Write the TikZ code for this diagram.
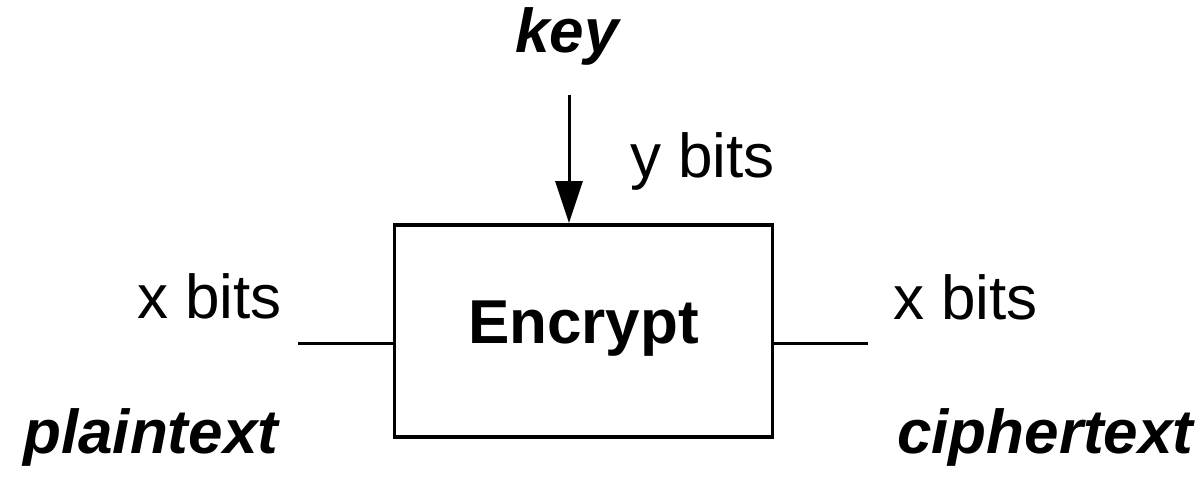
\documentclass[tikz,border=0pt]{standalone}
\usepackage{fontspec}
\setmainfont{Liberation Sans}
\usetikzlibrary{arrows.meta}
\tikzset{
  lbl/.style={inner sep=0pt, font=\fontsize{62}{74}\selectfont},
  tag/.style={lbl, font=\fontsize{62}{74}\selectfont\bfseries\itshape},
  blockbox/.style={draw, line width=3.8pt, minimum width=378pt, minimum height=212pt,
    inner sep=0pt, font=\fontsize{62}{74}\selectfont\bfseries,
    text height=45pt, text depth=21pt},
  wire/.style={line width=3pt},
  feed/.style={line width=3pt, -{Triangle[length=42pt,width=27pt]}}
}
\begin{document}
\begin{tikzpicture}[x=1pt,y=-1pt]
  \useasboundingbox (0,0) rectangle (1201,479);
  % encryption block
  \node[blockbox] (enc) at (583.5,331) {Encrypt};
  % key input from above
  \node[tag, anchor=base] (key) at (567,52) {key};
  \coordinate (ktop) at (569,95);
  \draw[feed] (ktop) -- (ktop |- enc.north);
  \node[lbl, anchor=base west] (ybits) at (630,177) {y bits};
  % plaintext input on the left
  \coordinate (pin) at (298,343);
  \draw[wire] (pin) -- (pin -| enc.west);
  \node[lbl, anchor=base west] (xin) at (137,318) {x bits};
  \node[tag, anchor=base west] (plain) at (23,453) {plaintext};
  % ciphertext output on the right
  \coordinate (pout) at (868,343);
  \draw[wire] (pout -| enc.east) -- (pout);
  \node[lbl, anchor=base west] (xout) at (893,319) {x bits};
  \node[tag, anchor=base west] (cipher) at (897,453) {ciphertext};
\end{tikzpicture}
\end{document}
